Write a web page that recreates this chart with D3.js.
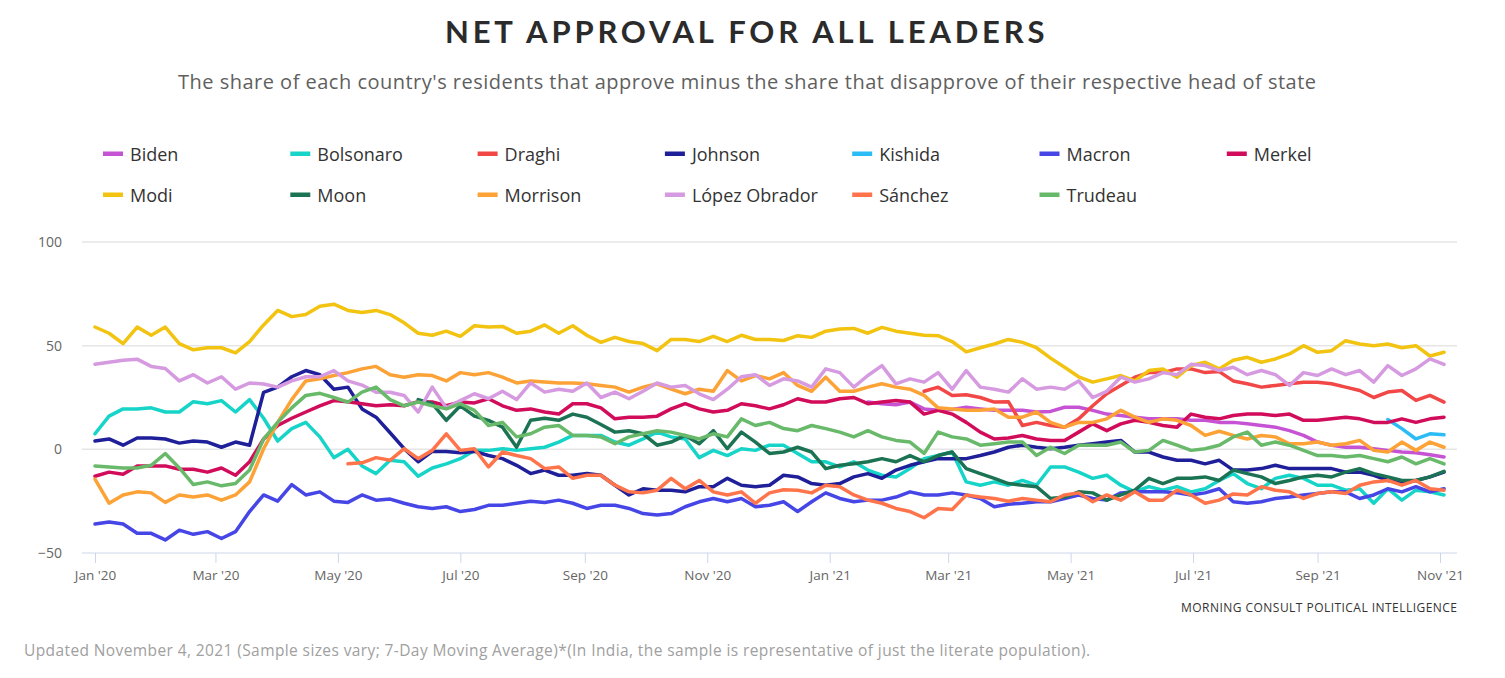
<!DOCTYPE html>
<html><head><meta charset="utf-8">
<script src="https://cdn.jsdelivr.net/npm/d3@7"></script>
<style>
html,body{margin:0;padding:0;background:#fff;}
svg{display:block;font-family:"Open Sans",sans-serif;}
</style></head>
<body>
<svg id="chart" width="1505" height="678"></svg>
<script>
// ---------- data (weekly samples starting Jan 1 2020) ----------
const startDate = new Date(2020, 0, 1);
const endDate = new Date(2021, 10, 4);
const weeks = d3.timeDay.range(startDate, endDate, 7); // 97 dates
const yTicks = [-50, 0, 50, 100];
const leaders = ["Biden","Bolsonaro","Draghi","Johnson","Kishida","Macron","Merkel","Modi","Moon","Morrison","López Obrador","Sánchez","Trudeau"];
const colors = ["#c653d4","#17d4c8","#f24747","#1f1f99","#2bbcf5","#4646e6","#d10c5a","#f2c310","#1b7353","#fca236","#d69ae0","#ff744a","#69b96b"];
const pad = (n, arr) => Array(n).fill(null).concat(arr);

const modi = [59,56,51,59,55,59,51,48,49,49,46.5,52,60,67,64,65,69,
70,67,66,67,65,61,56,55,57,54.5,59.6,59,59.3,56,57,60,
56,59.6,55,51.6,54,52,51,47.6,53,53,52,54.5,52,55,53,53,52.5,
54.8,54,57,58,58.3,56,58.8,57,56,55,54.8,52,47,49,50.8,53,
51.6,49,44,39.6,35,32.4,34,35.6,33,38,38.8,34.8,40.4,42,38.8,43,
44.4,42,43.6,46,50,46.8,47.6,52.4,50.8,50,50.8,49,50,45,46.8];
const lopezObrador = [41,42,43,43.5,40,39,33,36,32,35,29,32,31.5,30,33,35,35,
38,33,31,27.5,27.5,26,18,30,20,23.5,26.8,24.4,28,24,32,27.6,
29,28,32,25,27.6,24.4,28,32,30,30.8,26.8,24,29,35,36,30.8,34,
33,30,38.8,37,30,35.6,40.4,31.6,34,32.4,37,29,38,30,29,27.6,
34,29,30,29,33,25,28,34.8,32.4,34,37,36,41,40.4,38,39.6,
36,38,36,30.8,37,35.6,38.8,36,38,32.4,40.4,35.6,38.8,43.6,41];
const bolsonaro = [7.5,16,19.5,19.5,20,18,18,23,22,23.5,18,24,15,4,10,13,6,
-4,0,-8,-11.7,-5.3,-6,-13,-9,-7,-4.5,-0.5,-0.5,0.3,-0.5,0.3,1,
3.5,6.7,6.7,6.7,3.5,2,5,8.3,6,5,-4,-0.5,-3,0.3,-0.5,2,2,
-2,-6,-6,-8.5,-6,-10,-12.5,-13.3,-9.3,-4.5,-3,-1.3,-15.7,-17.3,-15.7,-17.3,
-15,-17.3,-8.5,-8.5,-11,-14,-12.5,-17.3,-20.5,-18,-19.7,-18,-20.5,-19,-15,-11.7,
-16.5,-19,-14,-12.5,-14,-17.3,-17.3,-19.7,-19,-26,-19,-24.5,-19.7,-20.5,-22];
const johnson = [4,5,2,5.5,5.5,5,3,4,3.5,1,3.5,2,27.5,30,35,38,36,
29,30,19.5,15.5,8,0.3,-6,-1,-1,-1.6,-1,-3,-4.5,-7.7,-11.7,-10,
-12.5,-12.5,-11.7,-12.5,-17.3,-22,-19,-19.7,-19.7,-20.5,-18,-18,-14,-17.3,-18,-17.3,-12.5,
-13.3,-16.5,-17.3,-16.5,-13.3,-11.7,-14,-10,-7.7,-6,-4.5,-4.5,-4.5,-3,-1.3,1,
2,1,0.3,1,2,2.7,3.5,4.3,-1.3,-1.3,-3.7,-5.3,-5.3,-7,-5.3,-10,
-10,-9.3,-7.7,-9.3,-9.3,-9.3,-9.3,-11,-11,-12.5,-15,-15.7,-15,-13.3,-11];
const merkel = [-13,-11,-12,-8,-8,-8,-9.6,-9.6,-11,-9,-12.5,-6,5,11.5,15,18,21,
23.5,23,22,21,21.5,21,23,22.8,21,22.8,22.4,24.4,21,18.8,19.5,18,
17,22,22,20,14.7,15.5,15.5,16,19.5,22,19.5,18,18.8,22,21,19.5,21.5,
24.4,22.8,22.8,24.4,25,22,22.8,23.5,22.8,17,18.8,17,13,8.3,5,5.5,
6.7,5,4.3,4.3,8.3,12.3,9,12.3,14,13,11.5,10.7,17,15.5,14.7,16.3,
17,17,16.3,17,14,14,14.7,15.5,14.7,13,13,14.7,13,14.7,15.5];
const trudeau = [-8,-8.5,-9,-9,-7.7,-2,-9,-17,-15.7,-17.6,-16.5,-10,5,13,20,26,27,
25,22.8,27.6,30,24,21,22.8,21,19.5,22,18.8,11.5,13,6,7.5,10.7,
11.5,6.7,6.7,6,2.7,6,7.5,9,8.3,6.7,5,7.5,6,14.7,11.5,13,10,
9,11.5,10,8.3,6,9,6,4.3,3.5,-2,8.3,6,5,2,2.7,3.5,
3.5,-3,1,-2,2,2,2,3.5,-1.3,-0.5,4.3,2,-0.5,0.3,2,6,
8.3,2,3.5,2,-0.5,-3,-3,-3.7,-3,-4.5,-6,-3.7,-7,-4.5,-7];
const morrison = [-14.4,-26,-22,-20.5,-21,-25.6,-22,-23,-22,-24.5,-22,-15.7,0.3,13,24,33,34,
35.6,37,38.8,40,36,34.8,36,35.6,33,37,36,37,34.8,32,33,32.5,
32,32,31.6,30.8,30,27.6,30,31.6,29,26.8,29,28,38,33,35.6,34,37,
30.8,28,34.8,28,28,30,31.6,30,29,26,20,19.5,18.8,18.8,19.5,15.5,
15.5,18,13,10.7,13,13,14.7,18.8,15.5,13,14.7,14,11.5,6.7,8.7,6.7,
5,6.7,6,2.7,2.7,3.5,2,2.7,4.3,-0.5,-1.3,3.5,-0.5,3.5,1];
const macron = [-36,-35,-36,-40.5,-40.5,-43.7,-39,-41,-39.7,-43,-39.7,-30,-22,-25,-17,-22,-20.5,
-25,-25.6,-22,-24.5,-24,-26,-27.7,-28.5,-27.7,-30,-29,-27,-27,-26,-25,-25.6,
-24.5,-26,-28.5,-27,-27,-28.5,-31,-31.7,-31,-27.7,-25.3,-23.7,-25.3,-23.7,-27.7,-27,-25.3,
-30,-25.3,-21,-23.7,-25.3,-24.5,-24.5,-23,-20.5,-22,-22,-21,-22,-23.7,-27.7,-26.5,
-26,-25.3,-25.3,-23.7,-22,-23.7,-24.5,-21,-20.5,-20.5,-20.5,-21,-22,-21,-19,-25.3,
-26,-25.3,-23.7,-23,-22,-21.3,-20.5,-20.5,-23.7,-22,-19,-20.5,-18,-20.5,-19];
const moon = pad(23, [24,22,14,21,16,14,10.7,1,14,15,
14,17,15.5,12,8.3,9,7.5,2,3.5,6.7,2.7,9,0.3,8.3,3.5,-2,-1.3,
1,-1.3,-9.3,-7.7,-7,-6,-4.5,-6,-3,-6,-3,-1.3,-9.3,-11.7,-14,-16.5,
-17.3,-18,-23.7,-23,-20.5,-21,-24.5,-22,-19.7,-14,-16.5,-14,-14,-13.3,-15,-10,
-11.7,-13.3,-16.5,-15,-13.3,-12.5,-13.3,-11,-9.3,-11.7,-13.3,-15,-15,-13.3,-10.6]);
const sanchez = pad(18, [-7,-6.5,-4,-5.3,0.3,-4.5,-0.5,7.5,-0.5,0.3,-8.5,-1.3,-3,-4.5,-9.3,
-8.5,-14,-12.5,-12.5,-17.3,-20.5,-21,-19.7,-14,-19,-15,-20.5,-22,-20.5,-26,-21,-19.5,
-19.7,-21,-17.3,-18,-22,-24.5,-26,-28.5,-30,-33,-28.5,-29,-22,-23,-23.7,-25,
-23.7,-24.5,-25.3,-22,-21,-25.3,-22,-24.5,-20.5,-24.5,-24.5,-19.7,-22,-26,-24.5,-21.5,
-22,-18,-19.7,-20.5,-23.7,-21.3,-20.5,-21.3,-17.3,-15.7,-15,-17.3,-15,-19,-19.7]);
const draghi = pad(59, [28,30,26,26.3,25,22.8,23,
11.5,13,11.5,10.7,14.7,21,26.8,30.8,34.8,37,37,38.8,38.8,37,37.5,33,
31.6,30,30.8,31.6,32.4,32.4,31.6,30,28.4,25,27.6,28.4,23.6,26,22.8]);
const biden = pad(55, [22.8,22,21.5,22.8,19.5,18.8,19.2,20.3,19.5,18.8,18.8,
18.8,18,18.3,20.3,20.3,18.8,17,16.3,15.5,14.7,14.7,14.7,14,14,13,13,
12.3,11.5,10.7,9,6.7,3.5,2,1,1,0.3,-0.5,-1.3,-1.6,-2.6,-3.7]);
const kishida = pad(92, [14.4,10,5,7.5,7]);

const seriesValues = [biden, bolsonaro, draghi, johnson, kishida, macron, merkel, modi, moon, morrison, lopezObrador, sanchez, trudeau];

// ---------- layout ----------
const svg = d3.select("#chart");
const plotLeft = 82, plotRight = 1457;
const x = d3.scaleTime()
  .domain([new Date(2020,0,1), new Date(2021,10,1)])
  .range([95, 1440]);
const y = d3.scaleLinear().domain([-50, 100]).range([553, 242]);

// title & subtitle
svg.append("text").attr("x", 746).attr("y", 43).attr("text-anchor","middle")
  .attr("font-family","Lato, 'Open Sans', sans-serif").attr("font-weight",700)
  .attr("font-size",31).attr("fill","#2b2b2b").attr("letter-spacing","2.5px")
  .attr("textLength",602).attr("lengthAdjust","spacing")
  .text("NET APPROVAL FOR ALL LEADERS");
svg.append("text").attr("x", 747).attr("y", 89).attr("text-anchor","middle")
  .attr("font-size",20).attr("fill","#5f5f5f")
  .attr("textLength",1138).attr("lengthAdjust","spacing")
  .text("The share of each country's residents that approve minus the share that disapprove of their respective head of state");

// legend
const legendCols = 7;
const legend = svg.append("g");
leaders.forEach((name, i) => {
  const col = i % legendCols, row = Math.floor(i / legendCols);
  const lx = 104 + col * 187.3, ly = 154 + row * 41;
  const g = legend.append("g").attr("transform", `translate(${lx},${ly})`);
  g.append("rect").attr("x",-1).attr("y",-2.5).attr("width",20).attr("height",4.5).attr("fill",colors[i]);
  g.append("text").attr("x",26).attr("y",7).attr("font-size",18).attr("fill","#333").text(name);
});

// gridlines
const grid = svg.append("g");
yTicks.forEach(t => {
  grid.append("line").attr("x1",plotLeft).attr("x2",plotRight)
    .attr("y1",y(t)).attr("y2",y(t))
    .attr("stroke", t === -50 ? "#ccd6eb" : "#e6e6e6").attr("stroke-width", t === -50 ? 1 : 1.5);
  grid.append("text").attr("x",62).attr("y",y(t)+5).attr("text-anchor","end")
    .attr("font-size",14).attr("fill","#666").text(t < 0 ? "\u2212" + Math.abs(t) : t);
});

// x axis
const xAxis = d3.axisBottom(x)
  .ticks(d3.timeMonth.every(2))
  .tickFormat(d3.timeFormat("%b '%y"))
  .tickSize(10).tickSizeOuter(0);
const xg = svg.append("g").attr("transform","translate(0,553)").call(xAxis);
xg.select(".domain").remove();
xg.selectAll(".tick line").attr("stroke","#ccd6eb");
xg.selectAll(".tick text").attr("font-family","'Open Sans',sans-serif").attr("font-size",13.5).attr("fill","#666").attr("dy","1.05em");

// lines
const line = d3.line()
  .defined(d => d.v !== null)
  .x(d => x(d.date))
  .y(d => y(d.v));
const lines = svg.append("g").attr("fill","none").attr("stroke-width",3.5).attr("stroke-linejoin","round").attr("stroke-linecap","round");
seriesValues.forEach((vals, i) => {
  const pts = weeks.map((d, k) => ({date: d, v: vals[k] === undefined ? null : vals[k]}));
  lines.append("path").attr("d", line(pts)).attr("stroke", colors[i]);
});

// credits & footer
svg.append("text").attr("x",1457).attr("y",612).attr("text-anchor","end")
  .attr("font-size",12).attr("fill","#333").attr("textLength",276).attr("lengthAdjust","spacing")
  .text("MORNING CONSULT POLITICAL INTELLIGENCE");
svg.append("text").attr("x",24).attr("y",656)
  .attr("font-size",15.5).attr("fill","#a0a0a0").attr("textLength",1066).attr("lengthAdjust","spacing")
  .text("Updated November 4, 2021 (Sample sizes vary; 7-Day Moving Average)*(In India, the sample is representative of just the literate population).");
</script>
</body></html>
